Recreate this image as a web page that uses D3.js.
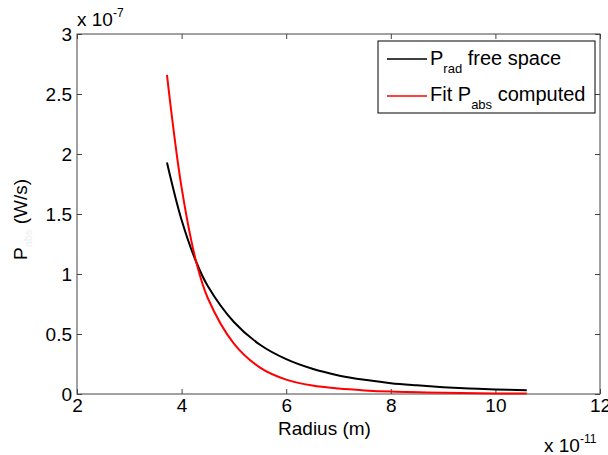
<!DOCTYPE html>
<html>
<head>
<meta charset="utf-8">
<script src="https://cdn.jsdelivr.net/npm/d3@7"></script>
<style>
  body { margin: 0; background: #fff; }
  svg { display: block; font-family: "Liberation Sans", Arial, sans-serif; }
</style>
</head>
<body>
<svg id="chart" width="608" height="455"></svg>
<script>
// radius values (x 1e-11 m) and power values (x 1e-7 W/s)
const radiusRad = [3.72, 4.0, 4.28, 4.5, 5.0, 5.5, 6.0, 6.5, 7.0, 7.5, 8.0, 8.5, 9.0, 9.5, 10.0, 10.6];
const powerRad  = [1.93, 1.45, 1.10, 0.90, 0.60, 0.41, 0.29, 0.21, 0.155, 0.118, 0.09, 0.072, 0.057, 0.046, 0.038, 0.031];

const radiusAbs = [3.72, 4.0, 4.28, 4.5, 5.0, 5.5, 6.0, 6.5, 7.0, 7.5, 8.0, 9.0, 10.0, 10.6];
const powerAbs  = [2.66, 1.72, 1.10, 0.80, 0.42, 0.22, 0.12, 0.07, 0.045, 0.03, 0.02, 0.01, 0.005, 0.004];

const xTicks = [2, 4, 6, 8, 10, 12];
const yTicks = [0, 0.5, 1, 1.5, 2, 2.5, 3];

const svg = d3.select("#chart");
const plotLeft = 77, plotRight = 600, plotTop = 34, plotBottom = 394;

const x = d3.scaleLinear().domain([2, 12]).range([plotLeft, plotRight]);
const y = d3.scaleLinear().domain([0, 3]).range([plotBottom, plotTop]);

const axisColor = "#444";
const fontSize = 19;

// 坐标轴
function styleAxis(g, showLabels) {
    g.select(".domain").remove();
    g.selectAll(".tick line").attr("stroke", axisColor);
    g.selectAll(".tick text")
        .attr("fill", "#000")
        .attr("font-size", fontSize)
        .attr("font-family", "Liberation Sans, Arial, sans-serif");
    if (!showLabels) g.selectAll(".tick text").remove();
}

svg.append("g")
    .attr("transform", `translate(0,${plotBottom})`)
    .call(d3.axisBottom(x).tickValues(xTicks).tickSize(-5).tickPadding(5).tickFormat(d3.format("d")))
    .call(g => styleAxis(g, true));

svg.append("g")
    .attr("transform", `translate(0,${plotTop})`)
    .call(d3.axisTop(x).tickValues(xTicks).tickSize(-5))
    .call(g => styleAxis(g, false));

svg.append("g")
    .attr("transform", `translate(${plotLeft},0)`)
    .call(d3.axisLeft(y).tickValues(yTicks).tickSize(-5).tickPadding(5).tickFormat(d => d3.format("")(d)))
    .call(g => styleAxis(g, true));

svg.append("g")
    .attr("transform", `translate(${plotRight},0)`)
    .call(d3.axisRight(y).tickValues(yTicks).tickSize(-5))
    .call(g => styleAxis(g, false));

svg.append("rect")
    .attr("x", plotLeft).attr("y", plotTop)
    .attr("width", plotRight - plotLeft).attr("height", plotBottom - plotTop)
    .attr("fill", "none").attr("stroke", axisColor).attr("stroke-width", 1);

// 曲线
const line = d3.line()
    .x(d => x(d[0]))
    .y(d => y(d[1]))
    .curve(d3.curveCatmullRom.alpha(0.5));

svg.append("path")
    .datum(d3.zip(radiusRad, powerRad))
    .attr("d", line)
    .attr("fill", "none")
    .attr("stroke", "#000")
    .attr("stroke-width", 2);

svg.append("path")
    .datum(d3.zip(radiusAbs, powerAbs))
    .attr("d", line)
    .attr("fill", "none")
    .attr("stroke", "#ff0000")
    .attr("stroke-width", 2);

// 指数标注
const exp7 = svg.append("text").attr("x", 77).attr("y", 26).attr("font-size", fontSize);
exp7.append("tspan").text("x 10");
exp7.append("tspan").attr("dy", -9).attr("font-size", 12).text("-7");

const exp11 = svg.append("text").attr("x", 544).attr("y", 452).attr("font-size", fontSize);
exp11.append("tspan").text("x 10");
exp11.append("tspan").attr("dy", -9).attr("font-size", 12).text("-11");

// 轴标题
svg.append("text")
    .attr("x", (plotLeft + plotRight) / 2 - 14)
    .attr("y", 435)
    .attr("text-anchor", "middle")
    .attr("font-size", fontSize)
    .text("Radius (m)");

const ylab = svg.append("text")
    .attr("transform", "translate(27,260) rotate(-90)")
    .attr("font-size", fontSize);
ylab.append("tspan").text("P");
ylab.append("tspan").attr("dy", 5).attr("font-size", 11).attr("fill", "#efefef").text("abs");
ylab.append("tspan").attr("dy", -5).text(" (W/s)");

// 图例
const legend = svg.append("g");
legend.append("rect")
    .attr("x", 378).attr("y", 41)
    .attr("width", 217).attr("height", 72)
    .attr("fill", "#fff").attr("stroke", "#000").attr("stroke-width", 1);

const legendItems = [
    { color: "#000", pre: "P", sub: "rad", post: " free space", ly: 59, ty: 65 },
    { color: "#ff0000", pre: "Fit P", sub: "abs", post: " computed", ly: 96, ty: 101 }
];

legendItems.forEach(d => {
    legend.append("line")
        .attr("x1", 387).attr("x2", 427)
        .attr("y1", d.ly).attr("y2", d.ly)
        .attr("stroke", d.color).attr("stroke-width", 1.5);
    const t = legend.append("text")
        .attr("x", 430).attr("y", d.ty)
        .attr("font-size", 20);
    t.append("tspan").text(d.pre);
    t.append("tspan").attr("dy", 8).attr("font-size", 13).text(d.sub);
    t.append("tspan").attr("dy", -8).text(d.post);
});
</script>
</body>
</html>
